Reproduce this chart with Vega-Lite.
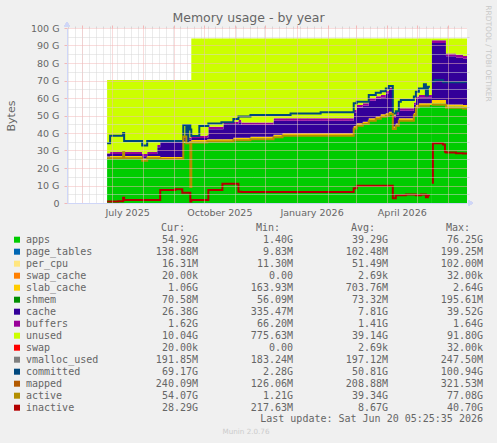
{
  "$schema": "https://vega.github.io/schema/vega-lite/v6.json",
  "width": 400,
  "height": 175,
  "autosize": {"type": "none"},
  "padding": {"left": 67, "top": 28, "right": 30, "bottom": 240},
  "background": "#F0F0F0",
  "config": {"view": {"stroke": null, "fill": "#FFFFFF"}, "font": "DejaVu Sans"},
  "title": {"text": "Memory usage - by year", "font": "DejaVu Sans", "fontSize": 12.5, "fontWeight": "normal", "color": "#666666", "anchor": "middle", "dx": -18.5, "dy": 20, "offset": 0},
  "datasets": {
    "mem": [
      {"d":"2025-06-26","seg":1,"apps":26.0,"slab_cache":0.6,"cache":1.5,"buffers":0.3,"unused":41.9,"committed":34.1,"active":25.6,"inactive":0.8},
      {"d":"2025-06-29","seg":1,"apps":26.0,"slab_cache":0.8,"cache":1.2,"buffers":1.3,"unused":41.0,"committed":38.5,"active":25.6,"inactive":0.8},
      {"d":"2025-07-07","seg":1,"apps":26.0,"slab_cache":0.8,"cache":1.2,"buffers":1.3,"unused":41.0,"committed":38.5,"active":25.6,"inactive":1.0},
      {"d":"2025-07-12","seg":1,"apps":26.0,"slab_cache":0.8,"cache":1.2,"buffers":1.3,"unused":41.0,"committed":40.0,"active":29.0,"inactive":3.0},
      {"d":"2025-07-13","seg":1,"apps":26.0,"slab_cache":0.8,"cache":1.2,"buffers":1.3,"unused":41.0,"committed":35.4,"active":25.6,"inactive":1.7},
      {"d":"2025-07-31","seg":1,"apps":24.6,"slab_cache":0.8,"cache":1.3,"buffers":1.3,"unused":42.3,"committed":32.8,"active":24.2,"inactive":1.7},
      {"d":"2025-08-05","seg":1,"apps":26.0,"slab_cache":0.8,"cache":1.2,"buffers":1.3,"unused":41.0,"committed":35.4,"active":25.6,"inactive":1.7},
      {"d":"2025-08-15","seg":1,"apps":26.0,"slab_cache":0.8,"cache":5.0,"buffers":1.3,"unused":37.2,"committed":35.4,"active":25.6,"inactive":1.7},
      {"d":"2025-08-18","seg":1,"apps":25.5,"slab_cache":0.8,"cache":8.4,"buffers":1.3,"unused":34.3,"committed":35.4,"active":25.1,"inactive":7.5},
      {"d":"2025-09-02","seg":1,"apps":25.5,"slab_cache":0.8,"cache":8.4,"buffers":1.3,"unused":34.3,"committed":35.4,"active":25.1,"inactive":7.8},
      {"d":"2025-09-09","seg":1,"apps":25.5,"slab_cache":0.8,"cache":8.4,"buffers":1.3,"unused":34.3,"committed":35.4,"active":25.1,"inactive":5.9},
      {"d":"2025-09-10","seg":1,"apps":34.5,"slab_cache":0.8,"cache":0.9,"buffers":1.3,"unused":32.8,"committed":44.6,"active":38.0,"inactive":5.9},
      {"d":"2025-09-13","seg":1,"apps":34.5,"slab_cache":0.8,"cache":0.9,"buffers":1.3,"unused":32.8,"committed":35.0,"active":34.1,"inactive":5.9},
      {"d":"2025-09-15","seg":1,"apps":34.5,"slab_cache":0.8,"cache":0.9,"buffers":1.3,"unused":32.8,"committed":44.6,"active":34.1,"inactive":5.9},
      {"d":"2025-09-17","seg":1,"apps":34.5,"slab_cache":0.8,"cache":0.9,"buffers":1.3,"unused":32.8,"committed":42.0,"active":9.1,"inactive":0.8},
      {"d":"2025-09-18","seg":1,"apps":35.0,"slab_cache":1.0,"cache":1.1,"buffers":1.4,"unused":55.5,"committed":38.3,"active":34.6,"inactive":1.7},
      {"d":"2025-09-26","seg":1,"apps":35.0,"slab_cache":1.0,"cache":1.1,"buffers":1.4,"unused":55.5,"committed":44.0,"active":34.6,"inactive":1.7},
      {"d":"2025-10-04","seg":1,"apps":35.5,"slab_cache":1.0,"cache":1.0,"buffers":1.4,"unused":55.1,"committed":44.0,"active":35.1,"inactive":1.7},
      {"d":"2025-10-05","seg":1,"apps":35.5,"slab_cache":1.0,"cache":5.7,"buffers":1.4,"unused":50.4,"committed":45.5,"active":35.1,"inactive":7.4},
      {"d":"2025-10-18","seg":1,"apps":35.5,"slab_cache":1.0,"cache":5.7,"buffers":1.4,"unused":50.4,"committed":46.1,"active":35.1,"inactive":7.4},
      {"d":"2025-10-19","seg":1,"apps":35.5,"slab_cache":1.0,"cache":5.7,"buffers":1.4,"unused":50.4,"committed":46.1,"active":35.1,"inactive":11.0},
      {"d":"2025-10-20","seg":1,"apps":35.5,"slab_cache":1.0,"cache":8.6,"buffers":1.4,"unused":47.5,"committed":46.1,"active":35.1,"inactive":11.0},
      {"d":"2025-10-30","seg":1,"apps":36.3,"slab_cache":1.0,"cache":7.8,"buffers":1.4,"unused":47.5,"committed":48.0,"active":35.9,"inactive":11.0},
      {"d":"2025-11-04","seg":1,"apps":36.3,"slab_cache":1.0,"cache":8.8,"buffers":1.4,"unused":46.5,"committed":49.5,"active":35.9,"inactive":6.5},
      {"d":"2025-11-07","seg":1,"apps":36.3,"slab_cache":1.0,"cache":7.3,"buffers":1.4,"unused":48.0,"committed":49.5,"active":35.9,"inactive":6.3},
      {"d":"2025-11-16","seg":1,"apps":36.8,"slab_cache":1.0,"cache":6.8,"buffers":1.4,"unused":48.0,"committed":50.3,"active":36.4,"inactive":6.3},
      {"d":"2025-12-09","seg":1,"apps":38.0,"slab_cache":1.0,"cache":8.0,"buffers":1.4,"unused":45.6,"committed":50.3,"active":37.6,"inactive":6.3},
      {"d":"2025-12-18","seg":1,"apps":38.9,"slab_cache":1.0,"cache":7.1,"buffers":1.4,"unused":45.6,"committed":50.3,"active":38.5,"inactive":6.3},
      {"d":"2025-12-26","seg":1,"apps":38.9,"slab_cache":1.0,"cache":7.1,"buffers":1.4,"unused":45.6,"committed":51.2,"active":38.5,"inactive":6.3},
      {"d":"2026-01-25","seg":1,"apps":38.9,"slab_cache":1.0,"cache":7.1,"buffers":1.4,"unused":45.6,"committed":51.9,"active":38.5,"inactive":6.3},
      {"d":"2026-02-27","seg":1,"apps":43.0,"slab_cache":1.0,"cache":7.7,"buffers":1.4,"unused":40.9,"committed":57.0,"active":42.6,"inactive":8.4},
      {"d":"2026-03-02","seg":1,"apps":44.6,"slab_cache":1.0,"cache":9.0,"buffers":1.4,"unused":38.0,"committed":57.9,"active":44.2,"inactive":9.9},
      {"d":"2026-03-08","seg":1,"apps":45.5,"slab_cache":1.0,"cache":9.1,"buffers":1.4,"unused":37.0,"committed":57.9,"active":45.1,"inactive":9.9},
      {"d":"2026-03-14","seg":1,"apps":47.4,"slab_cache":1.0,"cache":10.0,"buffers":1.4,"unused":34.2,"committed":61.7,"active":47.0,"inactive":9.9},
      {"d":"2026-03-21","seg":1,"apps":48.5,"slab_cache":1.0,"cache":10.1,"buffers":1.4,"unused":33.0,"committed":63.0,"active":48.1,"inactive":9.9},
      {"d":"2026-03-26","seg":1,"apps":49.7,"slab_cache":1.0,"cache":9.6,"buffers":1.4,"unused":32.3,"committed":63.8,"active":49.3,"inactive":9.9},
      {"d":"2026-03-31","seg":1,"apps":50.3,"slab_cache":1.0,"cache":11.3,"buffers":1.4,"unused":30.0,"committed":65.5,"active":49.9,"inactive":9.9},
      {"d":"2026-04-03","seg":1,"apps":51.2,"slab_cache":1.0,"cache":12.4,"buffers":1.4,"unused":28.0,"committed":66.8,"active":50.8,"inactive":9.9},
      {"d":"2026-04-07","seg":1,"apps":42.7,"slab_cache":1.0,"cache":4.9,"buffers":1.4,"unused":44.0,"committed":51.2,"active":42.3,"inactive":2.7},
      {"d":"2026-04-10","seg":1,"apps":44.5,"slab_cache":1.0,"cache":5.1,"buffers":1.4,"unused":42.0,"committed":52.5,"active":44.1,"inactive":4.4},
      {"d":"2026-04-13","seg":1,"apps":47.4,"slab_cache":1.0,"cache":4.3,"buffers":1.4,"unused":39.9,"committed":57.9,"active":47.0,"inactive":4.4},
      {"d":"2026-04-15","seg":1,"apps":47.4,"slab_cache":1.0,"cache":4.3,"buffers":1.4,"unused":39.9,"committed":58.9,"active":47.0,"inactive":4.4},
      {"d":"2026-04-20","seg":1,"apps":47.4,"slab_cache":1.0,"cache":4.3,"buffers":1.4,"unused":39.9,"committed":58.9,"active":47.0,"inactive":4.8},
      {"d":"2026-04-28","seg":1,"apps":50.5,"slab_cache":1.0,"cache":4.6,"buffers":1.4,"unused":36.5,"committed":60.8,"active":50.1,"inactive":4.8},
      {"d":"2026-04-30","seg":1,"apps":55.0,"slab_cache":1.0,"cache":3.4,"buffers":1.4,"unused":33.2,"committed":63.6,"active":54.6,"inactive":4.5},
      {"d":"2026-05-03","seg":1,"apps":56.0,"slab_cache":1.0,"cache":3.3,"buffers":1.4,"unused":32.3,"committed":65.5,"active":55.6,"inactive":4.5},
      {"d":"2026-05-05","seg":1,"apps":56.0,"slab_cache":1.0,"cache":3.3,"buffers":1.4,"unused":32.3,"committed":65.5,"active":55.6,"inactive":4.9},
      {"d":"2026-05-08","seg":1,"apps":56.0,"slab_cache":1.0,"cache":3.3,"buffers":1.4,"unused":32.3,"committed":67.8,"active":55.6,"inactive":4.9},
      {"d":"2026-05-10","seg":1,"apps":56.0,"slab_cache":1.0,"cache":3.3,"buffers":1.4,"unused":32.3,"committed":61.5,"active":55.6,"inactive":3.3},
      {"d":"2026-05-12","seg":1,"apps":56.0,"slab_cache":1.0,"cache":3.3,"buffers":1.4,"unused":32.3,"committed":66.5,"active":55.6,"inactive":4.4},
      {"d":"2026-05-14","seg":1,"apps":56.0,"slab_cache":1.0,"cache":3.3,"buffers":1.4,"unused":32.3,"committed":66.5,"active":55.6,"inactive":4.4},
      {"d":"2026-05-16","seg":2,"apps":56.8,"slab_cache":2.0,"cache":32.6,"buffers":1.6,"unused":1.0,"committed":69.3,"active":56.2,"inactive":11.6},
      {"d":"2026-05-17","seg":2,"apps":56.8,"slab_cache":2.0,"cache":32.6,"buffers":1.6,"unused":1.0,"committed":69.5,"active":56.2,"inactive":34.1},
      {"d":"2026-05-19","seg":2,"apps":56.8,"slab_cache":2.0,"cache":32.6,"buffers":1.6,"unused":1.0,"committed":70.3,"active":56.2,"inactive":34.1},
      {"d":"2026-05-27","seg":2,"apps":56.8,"slab_cache":2.0,"cache":32.6,"buffers":1.6,"unused":1.0,"committed":69.0,"active":56.2,"inactive":33.5},
      {"d":"2026-05-29","seg":2,"apps":56.8,"slab_cache":2.0,"cache":32.6,"buffers":1.6,"unused":1.0,"committed":69.0,"active":56.2,"inactive":29.3},
      {"d":"2026-05-30","seg":2,"apps":55.2,"slab_cache":1.1,"cache":27.6,"buffers":1.6,"unused":8.5,"committed":69.0,"active":54.5,"inactive":28.8},
      {"d":"2026-06-09","seg":2,"apps":55.2,"slab_cache":1.1,"cache":26.7,"buffers":1.6,"unused":9.4,"committed":69.0,"active":54.5,"inactive":28.5},
      {"d":"2026-06-16","seg":2,"apps":54.92,"slab_cache":1.06,"cache":26.38,"buffers":1.62,"unused":10.04,"committed":69.17,"active":54.07,"inactive":28.29},
      {"d":"2026-06-20","seg":2,"apps":54.92,"slab_cache":1.06,"cache":26.38,"buffers":1.62,"unused":10.04,"committed":69.17,"active":54.07,"inactive":28.29}
    ],
    "stats": [
      {"name":"apps","color":"#00CC00","Cur":"54.92G","Min":"1.40G","Avg":"39.29G","Max":"76.25G"},
      {"name":"page_tables","color":"#0066B3","Cur":"138.88M","Min":"9.83M","Avg":"102.48M","Max":"199.25M"},
      {"name":"per_cpu","color":"#FFE680","Cur":"16.31M","Min":"11.30M","Avg":"51.49M","Max":"102.00M"},
      {"name":"swap_cache","color":"#FF8000","Cur":"20.00k","Min":"0.00","Avg":"2.69k","Max":"32.00k"},
      {"name":"slab_cache","color":"#FFCC00","Cur":"1.06G","Min":"163.93M","Avg":"703.76M","Max":"2.64G"},
      {"name":"shmem","color":"#008F00","Cur":"70.58M","Min":"56.09M","Avg":"73.32M","Max":"195.61M"},
      {"name":"cache","color":"#330099","Cur":"26.38G","Min":"335.47M","Avg":"7.81G","Max":"39.52G"},
      {"name":"buffers","color":"#990099","Cur":"1.62G","Min":"66.20M","Avg":"1.41G","Max":"1.64G"},
      {"name":"unused","color":"#CCFF00","Cur":"10.04G","Min":"775.63M","Avg":"39.14G","Max":"91.80G"},
      {"name":"swap","color":"#FF0000","Cur":"20.00k","Min":"0.00","Avg":"2.69k","Max":"32.00k"},
      {"name":"vmalloc_used","color":"#808080","Cur":"191.85M","Min":"183.24M","Avg":"197.12M","Max":"247.50M"},
      {"name":"committed","color":"#00487D","Cur":"69.17G","Min":"2.28G","Avg":"50.81G","Max":"100.94G"},
      {"name":"mapped","color":"#B35A00","Cur":"240.09M","Min":"126.06M","Avg":"208.88M","Max":"321.53M"},
      {"name":"active","color":"#B38F00","Cur":"54.07G","Min":"1.21G","Avg":"39.34G","Max":"77.08G"},
      {"name":"inactive","color":"#B30000","Cur":"28.29G","Min":"217.63M","Avg":"8.67G","Max":"40.70G"}
    ]
  },
  "layer": [
    {
      "data": {"name": "mem"},
      "layer": [
        {
          "transform": [
            {"fold": ["apps", "slab_cache", "cache", "buffers", "unused"], "as": ["series", "bytes"]},
            {"lookup": "series", "from": {"data": {"values": [{"series":"apps","ord":1},{"series":"slab_cache","ord":2},{"series":"cache","ord":3},{"series":"buffers","ord":4},{"series":"unused","ord":5}]}, "key": "series", "fields": ["ord"]}}
          ],
          "mark": {"type": "area", "interpolate": "step-after"},
          "encoding": {
            "x": {"field": "d", "type": "temporal",
              "scale": {"type": "utc", "domain": [{"year":2025,"month":5,"date":17,"utc":true},{"year":2026,"month":6,"date":20,"utc":true}]},
              "axis": {"values": [{"year":2025,"month":7,"date":1,"utc":true},{"year":2025,"month":10,"date":1,"utc":true},{"year":2026,"month":1,"date":1,"utc":true},{"year":2026,"month":4,"date":1,"utc":true}],
                "format": "%B %Y", "labelOffset": 15, "labelOverlap": false, "labelBound": false, "labelFlush": false, "grid": false, "ticks": false,
                "domain": true, "domainColor": "#CFD6F8", "labelColor": "#666666", "labelFont": "DejaVu Sans", "labelFontSize": 9.5, "labelPadding": 4, "title": null, "zindex": 1}},
            "y": {"field": "bytes", "type": "quantitative", "stack": "zero",
              "scale": {"domain": [0, 100], "nice": false},
              "axis": {"values": [0,10,20,30,40,50,60,70,80,90,100], "labelExpr": "datum.value == 0 ? '0' : datum.value + ' G'",
                "grid": true, "gridColor": "#F2B8B8", "gridDash": [1,1], "ticks": true, "tickColor": "#F2B8B8", "tickSize": 3,
                "domain": true, "domainColor": "#CFD6F8", "labelColor": "#666666", "labelFont": "DejaVu Sans", "labelFontSize": 9.5, "labelPadding": 5,
                "title": "Bytes", "titleFont": "DejaVu Sans", "titleFontSize": 11, "titleFontWeight": "normal", "titleColor": "#666666", "titleX": -56, "titleBaseline": "middle", "zindex": 1}},
            "color": {"field": "series", "type": "nominal",
              "scale": {"domain": ["apps", "slab_cache", "cache", "buffers", "unused"], "range": ["#00CC00", "#FFCC00", "#330099", "#990099", "#CCFF00"]}, "legend": null},
            "order": {"field": "ord", "type": "quantitative"},
            "detail": {"field": "seg", "type": "nominal"}
          }
        },
        {
          "mark": {"type": "line", "interpolate": "step-after", "color": "#00487D", "strokeWidth": 2},
          "encoding": {
            "x": {"field": "d", "type": "temporal",
              "axis": {"tickCount": {"interval": "month", "step": 1}, "grid": true, "gridColor": "#F2B8B8", "gridDash": [1,1], "labels": false, "ticks": true, "tickColor": "#F2B8B8", "tickSize": 3, "domain": false, "title": null, "zindex": 1}},
            "y": {"field": "committed", "type": "quantitative",
              "axis": {"values": [5,15,25,35,45,55,65,75,85,95], "grid": true, "gridColor": "#D6D6D6", "gridDash": [1,1], "labels": false, "ticks": true, "tickColor": "#D6D6D6", "tickSize": 2, "domain": false, "title": null, "zindex": 1}},
            "detail": {"field": "seg", "type": "nominal"}
          }
        },
        {
          "mark": {"type": "line", "interpolate": "step-after", "color": "#B38F00", "strokeWidth": 2},
          "encoding": {
            "x": {"field": "d", "type": "temporal",
              "axis": {"tickCount": {"interval": "week", "step": 1}, "grid": true, "gridColor": "#D6D6D6", "gridDash": [1,1], "labels": false, "ticks": true, "tickColor": "#D6D6D6", "tickSize": 2, "domain": false, "title": null, "zindex": 0}},
            "y": {"field": "active", "type": "quantitative",
              "axis": {"orient": "right", "labels": false, "ticks": false, "domain": false, "grid": false,
                "title": "RRDTOOL / TOBI OETIKER", "titleAngle": 90, "titleFont": "DejaVu Sans", "titleFontSize": 7.5, "titleFontWeight": "normal", "titleColor": "#C8C8C8",
                "titleX": 20, "titleY": 25, "titleAlign": "center", "titleBaseline": "middle"}},
            "detail": {"field": "seg", "type": "nominal"}
          }
        },
        {
          "mark": {"type": "line", "interpolate": "step-after", "color": "#B30000", "strokeWidth": 2},
          "encoding": {
            "x": {"field": "d", "type": "temporal", "axis": null},
            "y": {"field": "inactive", "type": "quantitative", "axis": null},
            "detail": {"field": "seg", "type": "nominal"}
          }
        },
        {
          "mark": {"type": "point", "shape": "triangle-up", "filled": true, "opacity": 1, "color": "#CFD6F8", "size": 25, "yOffset": -4},
          "encoding": {
            "x": {"datum": {"year":2025,"month":5,"date":17,"utc":true}, "type": "temporal", "axis": null},
            "y": {"datum": 100, "type": "quantitative", "axis": null}
          }
        },
        {
          "mark": {"type": "point", "shape": "triangle-right", "filled": true, "opacity": 1, "color": "#CFD6F8", "size": 25, "xOffset": 4},
          "encoding": {
            "x": {"datum": {"year":2026,"month":6,"date":20,"utc":true}, "type": "temporal", "axis": null},
            "y": {"datum": 0, "type": "quantitative", "axis": null}
          }
        }
      ],
      "resolve": {"axis": {"x": "independent", "y": "independent"}}
    },
    {
      "data": {"name": "stats"},
      "layer": [
        {
          "mark": {"type": "square", "size": 36, "filled": true, "opacity": 1, "xOffset": -181},
          "encoding": {
            "x": {"datum": "Cur", "type": "nominal", "scale": {"type": "point", "domain": ["Cur", "Min", "Avg", "Max"], "range": [131, 416], "padding": 0}, "axis": null},
            "y": {"field": "name", "type": "nominal", "scale": {"type": "point", "domain": ["hdr","apps","page_tables","per_cpu","swap_cache","slab_cache","shmem","cache","buffers","unused","swap","vmalloc_used","committed","mapped","active","inactive","upd","munin"], "range": [199.7, 403.7], "padding": 0}, "axis": null},
            "color": {"field": "color", "type": "nominal", "scale": null}
          }
        },
        {
          "mark": {"type": "text", "align": "left", "baseline": "middle", "dx": -172, "font": "DejaVu Sans Mono", "fontSize": 10, "color": "#666666"},
          "encoding": {
            "x": {"datum": "Cur", "type": "nominal"},
            "y": {"field": "name", "type": "nominal"},
            "text": {"field": "name"}
          }
        },
        {
          "transform": [{"fold": ["Cur", "Min", "Avg", "Max"], "as": ["col", "val"]}],
          "mark": {"type": "text", "align": "right", "baseline": "middle", "font": "DejaVu Sans Mono", "fontSize": 10, "color": "#666666"},
          "encoding": {
            "x": {"field": "col", "type": "nominal"},
            "y": {"field": "name", "type": "nominal"},
            "text": {"field": "val"}
          }
        },
        {
          "data": {"values": [{"col":"Cur","h":"Cur:"},{"col":"Min","h":"Min:"},{"col":"Avg","h":"Avg:"},{"col":"Max","h":"Max:"}]},
          "mark": {"type": "text", "align": "right", "baseline": "middle", "dx": -13, "font": "DejaVu Sans Mono", "fontSize": 10, "color": "#666666"},
          "encoding": {
            "x": {"field": "col", "type": "nominal"},
            "y": {"datum": "hdr", "type": "nominal"},
            "text": {"field": "h"}
          }
        },
        {
          "data": {"values": [{"t": "Last update: Sat Jun 20 05:25:35 2026"}]},
          "mark": {"type": "text", "align": "right", "baseline": "middle", "dy": -1, "font": "DejaVu Sans Mono", "fontSize": 10, "color": "#666666"},
          "encoding": {
            "x": {"datum": "Max", "type": "nominal"},
            "y": {"datum": "upd", "type": "nominal"},
            "text": {"field": "t"}
          }
        },
        {
          "data": {"values": [{"t": "Munin 2.0.76"}]},
          "mark": {"type": "text", "align": "center", "baseline": "middle", "dx": 48, "font": "DejaVu Sans", "fontSize": 7.2, "color": "#CCCCCC"},
          "encoding": {
            "x": {"datum": "Cur", "type": "nominal"},
            "y": {"datum": "munin", "type": "nominal"},
            "text": {"field": "t"}
          }
        }
      ]
    }
  ],
  "resolve": {"scale": {"x": "independent", "y": "independent", "color": "independent"}}
}
